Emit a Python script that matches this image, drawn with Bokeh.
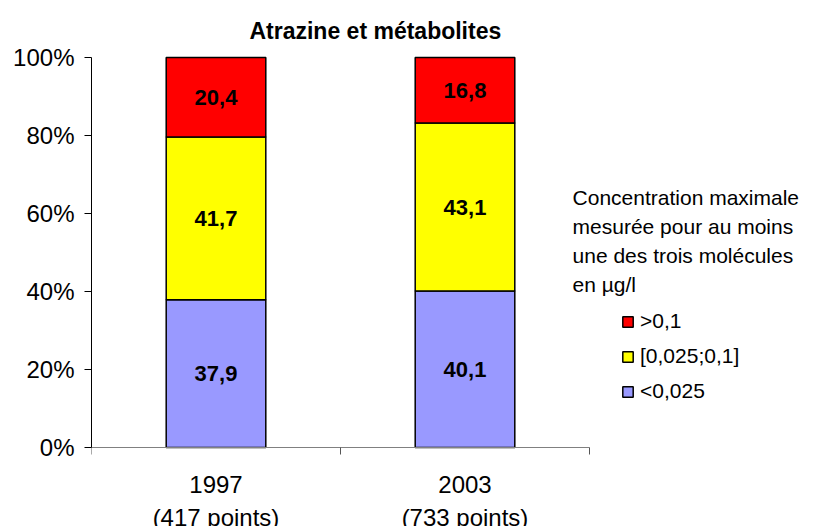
from bokeh.plotting import figure
from bokeh.models import Range1d, FixedTicker, Legend, LegendItem, Label, ColumnDataSource
from bokeh.core.properties import value
from bokeh.embed import file_html
from bokeh.resources import INLINE

# ---- data ----
categories = ["1997\n(417 points)", "2003\n(733 points)"]
series_names = ["<0,025", "[0,025;0,1]", ">0,1"]
low = [37.9, 40.1]
mid = [41.7, 43.1]
high = [20.4, 16.8]
colors = ["#9999FF", "#FFFF00", "#FF0000"]
y_ticks = [0, 20, 40, 60, 80, 100]
y_tick_labels = ["0%", "20%", "40%", "60%", "80%", "100%"]
title_text = "Atrazine et métabolites"
legend_title_lines = [
    "Concentration maximale",
    "mesurée pour au moins",
    "une des trois molécules",
    "en µg/l",
]

FONT = "Liberation Sans"

# layout (pixels)
W, H = 813, 526
LEFT = 91
ZERO_Y = 447          # pixel row of 0 %
AXIS_W = 498          # pixel length of the category axis
AXIS_H = 390          # pixel height of 0..100 %
frame_w = W - LEFT - 2
n = len(categories)
x_end = n * frame_w / AXIS_W
per_px = 100 / AXIS_H
y_end = 100 + (ZERO_Y - AXIS_H) * per_px
y_start = -(H - ZERO_Y) * per_px

x = [i + 0.5 for i in range(n)]
source = ColumnDataSource(dict(x=x, low=low, mid=mid, high=high))

p = figure(
    width=W, height=H,
    x_range=Range1d(0, x_end), y_range=Range1d(y_start, y_end),
    output_backend="svg", toolbar_location=None,
    min_border_left=LEFT, min_border_right=2, min_border_top=0, min_border_bottom=0,
)
p.xgrid.visible = False
p.ygrid.visible = False
p.outline_line_color = None

renderers = p.vbar_stack(
    ["low", "mid", "high"], x="x", width=0.4, source=source,
    fill_color=colors, line_color="black", line_width=1.5,
)

# value labels in segments
lab_x, lab_y, lab_t = [], [], []
for i in range(n):
    base = 0.0
    for vals in (low, mid, high):
        v = vals[i]
        lab_x.append(x[i])
        lab_y.append(base + v / 2)
        lab_t.append(f"{v:.1f}".replace(".", ","))
        base += v
p.text(lab_x, lab_y, text=lab_t, text_align="center", text_baseline="middle",
       text_font=value(FONT), text_font_style="bold", text_font_size="22px",
       text_color="black")

# y axis
ya = p.yaxis[0]
ya.bounds = (0, 100)
ya.ticker = FixedTicker(ticks=y_ticks, minor_ticks=[])
ya.major_label_overrides = {t: l for t, l in zip(y_ticks, y_tick_labels)}
ya.major_tick_out = 7
ya.major_tick_in = 0
ya.minor_tick_line_color = None
ya.axis_line_color = "black"
ya.major_tick_line_color = "black"
ya.major_label_text_font = FONT
ya.major_label_text_font_size = "24px"
ya.major_label_text_color = "black"
ya.major_label_standoff = 10

# x axis (drawn at 0 %)
xa = p.xaxis[0]
xa.fixed_location = 0
xa.bounds = (0, n)
xa.ticker = FixedTicker(ticks=x, minor_ticks=list(range(n + 1)))
xa.major_label_overrides = {xv: c for xv, c in zip(x, categories)}
xa.major_tick_line_color = None
xa.major_tick_out = 0
xa.major_tick_in = 0
xa.minor_tick_out = 7
xa.minor_tick_in = 0
xa.minor_tick_line_color = "#555555"
xa.axis_line_color = "#808080"
xa.major_label_text_font = FONT
xa.major_label_text_font_size = "24px"
xa.major_label_text_color = "black"
xa.major_label_standoff = 16
xa.major_label_text_line_height = 1.25

# legend
items = [LegendItem(label=series_names[k], renderers=[renderers[k]])
         for k in reversed(range(len(series_names)))]
legend = Legend(
    items=items, location=(530, 123), padding=0, margin=0, spacing=11,
    glyph_width=13, glyph_height=13, label_standoff=6, label_height=20,
    label_text_font=FONT, label_text_font_size="21px", label_text_color="black",
    border_line_color=None, background_fill_alpha=0,
)
p.add_layout(legend)

# title
p.add_layout(Label(x=1.14, y=106.7, text=title_text, text_align="center",
                   text_baseline="alphabetic", text_font=FONT,
                   text_font_style="bold", text_font_size="23px",
                   text_color="black"))

# legend title lines
for j, line in enumerate(legend_title_lines):
    p.add_layout(Label(x=1.932, y=64.1 - j * 7.44, text=line, text_align="left",
                       text_baseline="alphabetic", text_font=FONT,
                       text_font_size="21px", text_color="black"))

open("out.html", "w").write(file_html(p, INLINE))
